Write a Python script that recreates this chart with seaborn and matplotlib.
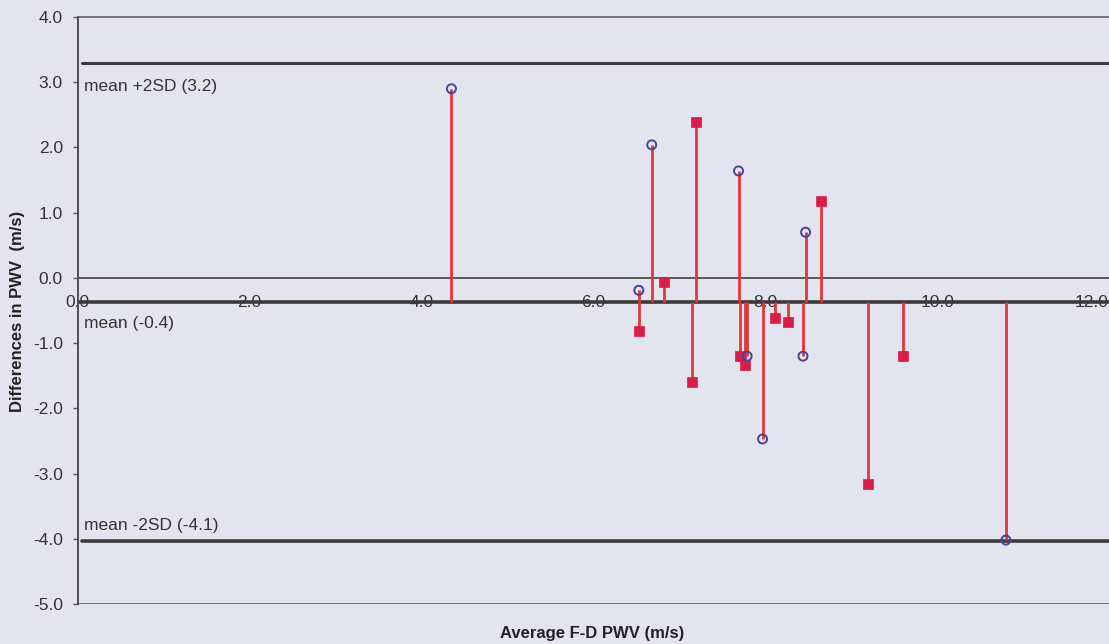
import matplotlib
matplotlib.use("Agg")
import matplotlib.pyplot as plt
import seaborn as sns
import pandas as pd

# ---- data ----
circle_x = [4.35, 6.68, 6.53, 7.69, 8.47, 7.79, 7.97, 8.44, 10.80]
circle_y = [2.90, 2.04, -0.19, 1.64, 0.70, -1.20, -2.47, -1.20, -4.02]
square_x = [7.20, 6.53, 6.82, 7.15, 8.65, 7.71, 7.76, 8.12, 8.26, 9.20, 9.60]
square_y = [2.39, -0.82, -0.07, -1.59, 1.18, -1.20, -1.33, -0.61, -0.67, -3.16, -1.19]

mean_diff = -0.37
upper_loa = 3.29
lower_loa = -4.03
ref_labels = ["mean +2SD (3.2)", "mean (-0.4)", "mean -2SD (-4.1)"]

x_ticks = [0, 2, 4, 6, 8, 10, 12]
x_ticklabels = ["0.0", "2.0", "4.0", "6.0", "8.0", "10.0", "12.0"]
y_ticks = [4, 3, 2, 1, 0, -1, -2, -3, -4, -5]
y_ticklabels = ["4.0", "3.0", "2.0", "1.0", "0.0", "-1.0", "-2.0", "-3.0", "-4.0", "-5.0"]

xlabel = "Average F-D PWV (m/s)"
ylabel = "Differences in PWV  (m/s)"

# ---- styling ----
sns.set_theme(style="white")
plt.rcParams["font.family"] = ["Liberation Sans", "DejaVu Sans"]
bg = "#e4e4ee"
line_col = "#3a3a3a"
stem_col = "#e0383a"
txt_col = "#333333"

fig = plt.figure(figsize=(11.09, 6.44), dpi=100, facecolor=bg)
ax = fig.add_axes([0.0699, 0.0621, 0.9301, 0.9115])
ax.set_facecolor(bg)

ax.set_xlim(0, 12.0)
ax.set_ylim(-5, 4)

# reference lines
ax.axhline(upper_loa, color=line_col, lw=2.2, zorder=2, xmin=0.004)
ax.axhline(mean_diff, color=line_col, lw=2.6, zorder=2)
ax.axhline(lower_loa, color=line_col, lw=2.6, zorder=2, xmin=0.004)
ax.axhline(0, color="#555555", lw=1.1, zorder=1)
ax.axhline(-5, color="#555555", lw=1.1, zorder=1)

# stems from the mean line
all_x = circle_x + square_x
all_y = circle_y + square_y
ax.vlines(all_x, mean_diff, all_y, color=stem_col, lw=2.0, zorder=3)

df_c = pd.DataFrame({"x": circle_x, "y": circle_y})
df_s = pd.DataFrame({"x": square_x, "y": square_y})
sns.scatterplot(data=df_s, x="x", y="y", marker="s", s=60, color="#d81e48",
                edgecolor="#d81e48", linewidth=0.5, ax=ax, zorder=4, legend=False)
sns.scatterplot(data=df_c, x="x", y="y", marker="o", s=42, facecolor="none",
                edgecolor="#45459a", linewidth=1.4, ax=ax, zorder=5, legend=False)

# spines
ax.spines["right"].set_visible(False)
ax.spines["top"].set_color("#555555")
ax.spines["top"].set_linewidth(1.1)
ax.spines["left"].set_color("#444444")
ax.spines["left"].set_linewidth(1.3)
ax.spines["bottom"].set_position(("data", 0))
ax.spines["bottom"].set_color("#555555")
ax.spines["bottom"].set_linewidth(1.1)

ax.set_xticks(x_ticks)
ax.set_xticklabels(x_ticklabels)
ax.set_yticks(y_ticks)
ax.set_yticklabels(y_ticklabels)
ax.tick_params(axis="x", direction="out", length=3.5, width=1, color="#555555",
               pad=9, labelsize=12.5, labelcolor=txt_col)
ax.tick_params(axis="y", direction="out", length=3.5, width=1, color="#555555",
               pad=7, labelsize=12.5, labelcolor=txt_col, left=True)
# last tick label sits at the figure edge: keep it inside
ax.get_xticklabels()[-1].set_ha("right")

ax.set_xlabel("")
ax.set_ylabel("")
fig.text(0.534, 0.017, xlabel, ha="center", va="center", fontsize=12,
         fontweight="bold", color="#222222")
fig.text(0.016, 0.517, ylabel, ha="center", va="center", rotation=90,
         fontsize=12, fontweight="bold", color="#222222")

# line annotations
ax.text(0.075, upper_loa - 0.24, ref_labels[0], ha="left", va="top", fontsize=12.5, color=txt_col)
ax.text(0.075, mean_diff - 0.22, ref_labels[1], ha="left", va="top", fontsize=12.5, color=txt_col)
ax.text(0.075, lower_loa + 0.12, ref_labels[2], ha="left", va="bottom", fontsize=12.5, color=txt_col)

fig.savefig("out.png", dpi=100, facecolor=bg)
